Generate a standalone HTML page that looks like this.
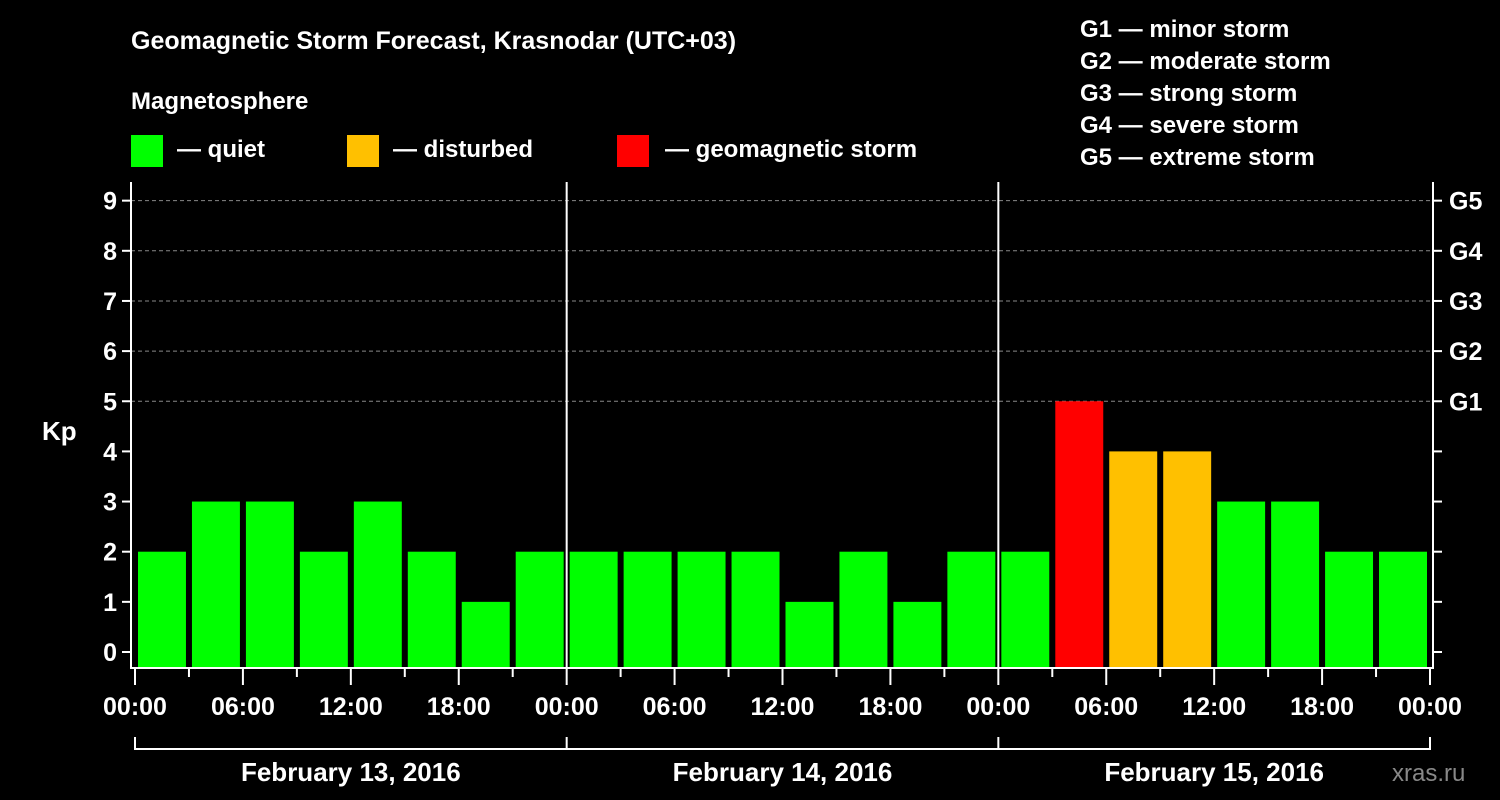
<!DOCTYPE html>
<html><head><meta charset="utf-8"><style>
body{margin:0;background:#000;}
svg{display:block;font-family:"Liberation Sans",Arial,sans-serif;font-weight:bold;}
</style></head><body>
<svg id="chart" width="1500" height="800" viewBox="0 0 1500 800" xmlns="http://www.w3.org/2000/svg">
<rect width="1500" height="800" fill="#000"/>
<text x="131" y="49" fill="#fff" font-size="25">Geomagnetic Storm Forecast, Krasnodar (UTC+03)</text>
<text x="131" y="109" fill="#fff" font-size="24">Magnetosphere</text>
<g><rect x="131" y="135" width="32" height="32" fill="#00ff00"/><text x="177" y="157" fill="#fff" font-size="24">— quiet</text></g>
<g><rect x="347" y="135" width="32" height="32" fill="#ffc000"/><text x="393" y="157" fill="#fff" font-size="24">— disturbed</text></g>
<g><rect x="617" y="135" width="32" height="32" fill="#ff0000"/><text x="665" y="157" fill="#fff" font-size="24">— geomagnetic storm</text></g>
<g fill="#fff" font-size="24">
<text x="1080" y="37">G1 — minor storm</text>
<text x="1080" y="69">G2 — moderate storm</text>
<text x="1080" y="101">G3 — strong storm</text>
<text x="1080" y="133">G4 — severe storm</text>
<text x="1080" y="165">G5 — extreme storm</text>
</g>
<text x="42" y="440" fill="#fff" font-size="26">Kp</text>
<text x="1392" y="781" fill="#888" font-size="24" font-weight="normal">xras.ru</text>
<g id="plot"></g>
</svg>
<script>
const kpValues=[2,3,3,2,3,2,1,2, 2,2,2,2,1,2,1,2, 2,5,4,4,3,3,2,2];
const yTicks=[0,1,2,3,4,5,6,7,8,9];
const gLabels=["G1","G2","G3","G4","G5"];
const xTickLabels=["00:00","06:00","12:00","18:00","00:00","06:00","12:00","18:00","00:00","06:00","12:00","18:00","00:00"];
const dayLabels=["February 13, 2016","February 14, 2016","February 15, 2016"];

const NS="http://www.w3.org/2000/svg";
const g=document.getElementById('plot');
const X0=135,X1=1430,N=kpValues.length;
const step=(X1-X0)/N;
const xS=i=>X0+i*step;
const yS=v=>652-v*50.15;
const TOP=182,BOT=668,LA=131,RA=1433;
function el(t,a,txt){const e=document.createElementNS(NS,t);for(const k in a)e.setAttribute(k,a[k]);if(txt!==undefined)e.textContent=txt;g.appendChild(e);return e;}

yTicks.forEach(v=>{
  if(v>=5){const l=el('line',{x1:LA,x2:RA,y1:yS(v),y2:yS(v),stroke:'#888','stroke-width':1,'stroke-dasharray':'4,3'});
  
  }
  el('line',{x1:LA-9,x2:LA,y1:yS(v),y2:yS(v),stroke:'#fff','stroke-width':2});
  el('line',{x1:RA,x2:RA+9,y1:yS(v),y2:yS(v),stroke:'#fff','stroke-width':2});
  const t=el('text',{x:LA-14,y:yS(v)+9,fill:'#fff','font-size':25,'text-anchor':'end'},String(v));
  
  
});
gLabels.forEach((s,i)=>{
  const t=el('text',{x:RA+16,y:yS(5+i)+9,fill:'#fff','font-size':25},s);
  
  
});
kpValues.forEach((v,i)=>{
  const c=v>=5?'#ff0000':(v>=4?'#ffc000':'#00ff00');
  const r=el('rect',{x:xS(i)+3,y:yS(v),width:step-6,height:BOT-1-yS(v),fill:c});
  
  
});
// axes
el('line',{x1:LA,x2:LA,y1:TOP,y2:BOT+1,stroke:'#fff','stroke-width':2});
el('line',{x1:RA,x2:RA,y1:TOP,y2:BOT+1,stroke:'#fff','stroke-width':2});
el('line',{x1:LA,x2:RA,y1:BOT,y2:BOT,stroke:'#fff','stroke-width':2});
[1,2].forEach(d=>el('line',{x1:xS(d*8),x2:xS(d*8),y1:TOP,y2:BOT,stroke:'#fff','stroke-width':2}));
for(let i=0;i<=N;i++){
  const major=i%2===0;
  el('line',{x1:xS(i),x2:xS(i),y1:BOT,y2:major?685:677,stroke:'#fff','stroke-width':2});
}
xTickLabels.forEach((s,i)=>{
  const t=el('text',{x:xS(i*2),y:715,fill:'#fff','font-size':25,'text-anchor':'middle'},s);
  
  
});
el('line',{x1:X0,x2:X1,y1:749,y2:749,stroke:'#fff','stroke-width':2});
for(let d=0;d<=3;d++)el('line',{x1:xS(d*8),x2:xS(d*8),y1:737,y2:750,stroke:'#fff','stroke-width':2});
dayLabels.forEach((s,d)=>{
  const t=el('text',{x:(xS(d*8)+xS(d*8+8))/2,y:781,fill:'#fff','font-size':26,'text-anchor':'middle'},s);
  
  
});
</script>
</body></html>
